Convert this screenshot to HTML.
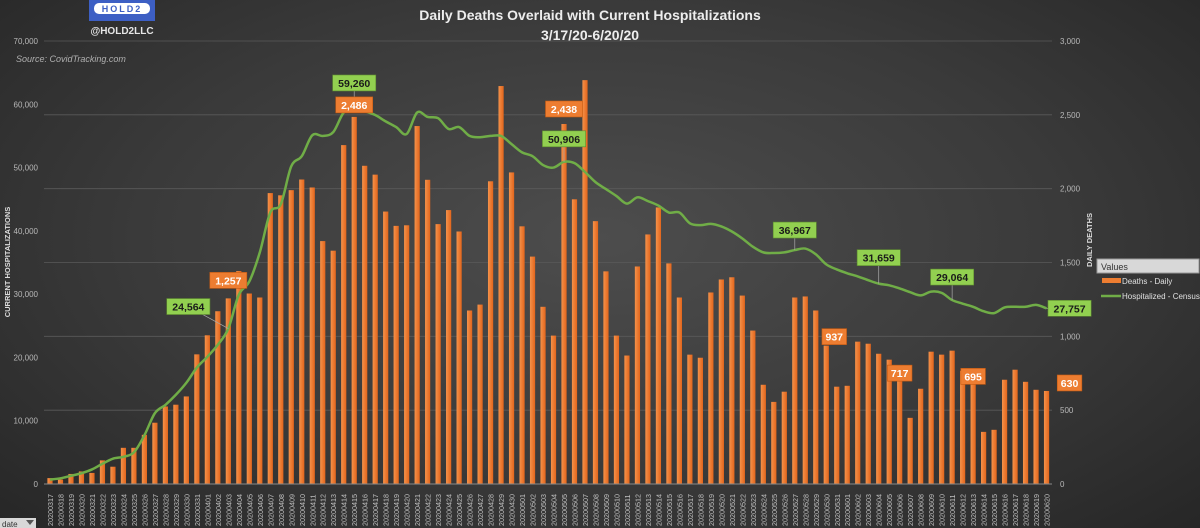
<!DOCTYPE html>
<html><head><meta charset="utf-8"><style>
html,body{margin:0;padding:0;}
body{width:1200px;height:528px;overflow:hidden;background:radial-gradient(ellipse 70% 80% at 50% 45%,#4d4d4d 0%,#3a3a3a 55%,#262626 100%);font-family:"Liberation Sans",sans-serif;}
svg{position:absolute;left:0;top:0;}
</style></head><body>
<svg id="chart" width="1200" height="528">
<defs><linearGradient id="barg" x1="0" x2="1"><stop offset="0" stop-color="#f5924a"/><stop offset="1" stop-color="#e2651c"/></linearGradient></defs>
<g id="grid"></g>
<g id="bars"></g>
<g id="line"></g>
<g id="labels"></g>
<g id="axes"></g>
<g>
<rect x="89" y="0" width="66" height="21" fill="#3d5fc4"/>
<rect x="94" y="3" width="56" height="11" rx="5" fill="#fff"/>
<text x="122" y="12" font-size="9" font-weight="bold" fill="#3d5fc4" text-anchor="middle" letter-spacing="2">HOLD2</text>
<text x="122" y="34" font-size="10" font-weight="bold" fill="#e6e6e6" text-anchor="middle">@HOLD2LLC</text>
<text x="590" y="20" font-size="14" font-weight="bold" fill="#ededed" text-anchor="middle">Daily Deaths Overlaid with Current Hospitalizations</text>
<text x="590" y="40" font-size="14" font-weight="bold" fill="#ededed" text-anchor="middle">3/17/20-6/20/20</text>
<text x="16" y="62" font-size="9" font-style="italic" fill="#b0b0b0">Source: CovidTracking.com</text>
<text transform="translate(10,262) rotate(-90)" font-size="7.5" font-weight="bold" fill="#dcdcdc" text-anchor="middle">CURRENT HOSPITALIZATIONS</text>
<text transform="translate(1092,240) rotate(-90)" font-size="7.5" font-weight="bold" fill="#dcdcdc" text-anchor="middle">DAILY DEATHS</text>
</g>
<g>
<rect x="1097" y="259" width="102" height="14" fill="#d8d8d8" stroke="#999"/>
<text x="1101" y="270" font-size="9" fill="#333">Values</text>
<rect x="1102" y="278" width="19" height="5" fill="#ed7d31"/>
<text x="1122" y="284" font-size="8" fill="#e0e0e0">Deaths - Daily</text>
<line x1="1101" y1="296" x2="1121" y2="296" stroke="#70ad47" stroke-width="2.5"/>
<text x="1122" y="299" font-size="8" fill="#e0e0e0">Hospitalized - Census</text>
</g>
<g>
<rect x="0" y="518" width="36" height="12" fill="#d8d8d8"/>
<text x="2" y="527" font-size="8" fill="#333">date</text>
<path d="M26 520 L34 520 L30 525 Z" fill="#555"/>
</g>
</svg>
<script>
const dates = [];
(function(){const m=[[3,17,31],[4,1,30],[5,1,31],[6,1,20]];for(const [mo,a,b] of m)for(let d=a;d<=b;d++)dates.push('20200'+mo+(d<10?'0'+d:d));})();
const deaths = [40,30,68,85,75,160,117,245,245,333,415,525,537,593,878,1007,1170,1257,1442,1290,1263,1970,1955,1990,2062,2008,1645,1580,2295,2486,2155,2095,1845,1748,
1752,2424,2060,1760,1855,1710,1175,1215,2050,2695,2110,1745,1540,1200,1005,2438,1928,2735,1780,1440,1005,870,1473,1690,1873,1494,1263,876,855,1297,1385,1400,1276,1039,672,556,625,1263,
1270,1175,937,659,665,964,950,882,842,717,448,645,896,876,903,767,695,353,367,706,774,692,638,630];
const hosp = [700,900,1300,1700,2300,3200,4000,4300,5000,7700,11200,12500,14100,16000,18400,20100,22000,24564,29900,32000,36600,42900,44200,50200,51800,55100,55000,55600,58700,59260,58900,58300,57300,56400,
55300,58700,58000,57800,56100,56400,55000,54800,55000,55000,53700,52400,51800,50400,50000,50906,50700,49300,47700,46600,45500,44300,45300,44700,44000,42900,42900,41200,40900,41100,40700,39900,38800,37500,36600,36500,36600,36967,
37200,36300,34700,33900,33300,32800,32200,31659,31400,30900,30300,29800,30400,30200,29064,28500,28000,27300,27000,27900,28000,28000,28300,27757];
const leftTicks = [0,10000,20000,30000,40000,50000,60000,70000];
const rightTicks = [0,500,1000,1500,2000,2500,3000];
const hospLabels = [17,29,49,71,79,86,95];
const deathLabels = [17,29,49,74,81,88,95];

const Y0=484, YT=41, X0=50, DX=10.49;
const xAt=i=>X0+i*DX;
const yL=v=>Y0-(v/70000)*(Y0-YT);
const yR=v=>Y0-(v/3000)*(Y0-YT);
const NS='http://www.w3.org/2000/svg';
function mk(tag,attrs,parent,txt){const e=document.createElementNS(NS,tag);for(const k in attrs)e.setAttribute(k,attrs[k]);if(txt!==undefined)e.textContent=txt;parent.appendChild(e);return e;}
const fmt=v=>v.toLocaleString('en-US');
const G=id=>document.getElementById(id);

rightTicks.forEach(t=>{
  const l=mk('line',{x1:44,x2:1052,y1:yR(t),y2:yR(t),stroke:'#5a5a5a','stroke-width':0.8},G('grid'));
  
  
  const tx=mk('text',{x:1060,y:yR(t)+3,'font-size':8,fill:'#b8b8b8'},G('axes'),fmt(t));
  
  
});
leftTicks.forEach(t=>{
  const tx=mk('text',{x:38,y:yL(t)+3,'font-size':8,fill:'#b8b8b8','text-anchor':'end'},G('axes'),fmt(t));
  
  
});
mk('line',{x1:44,x2:1052,y1:Y0,y2:Y0,stroke:'#888','stroke-width':1},G('axes'));
dates.forEach((d,i)=>{
  const r=mk('rect',{x:xAt(i)-2.6,y:yR(deaths[i]),width:5.2,height:Y0-yR(deaths[i]),fill:'url(#barg)'},G('bars'));
  
  
  const tx=mk('text',{transform:`translate(${xAt(i)+3},526) rotate(-90)`,'font-size':7.2,fill:'#c0c0c0'},G('axes'),d);
  
  
});
// smooth line (Catmull-Rom)
const pts=hosp.map((v,i)=>[xAt(i),yL(v)]);
let dstr=`M${pts[0][0]},${pts[0][1]}`;
for(let i=0;i<pts.length-1;i++){const p0=pts[Math.max(0,i-1)],p1=pts[i],p2=pts[i+1],p3=pts[Math.min(pts.length-1,i+2)];
dstr+=` C${p1[0]+(p2[0]-p0[0])/6},${p1[1]+(p2[1]-p0[1])/6} ${p2[0]-(p3[0]-p1[0])/6},${p2[1]-(p3[1]-p1[1])/6} ${p2[0]},${p2[1]}`;}
const path=mk('path',{d:dstr,fill:'none',stroke:'#70ad47','stroke-width':2.5},G('line'));



function label(x,y,txt,bg,fg,name){
  const w=txt.length*6.2+6;
  const r=mk('rect',{x:x-w/2,y:y-8,width:w,height:16,fill:bg,stroke:bg==='#92d050'?'#5d8a2f':'#c55a11','stroke-width':0.6},G('labels'));
  
  
  mk('text',{x:x,y:y+4,'font-size':10.5,'font-weight':'bold',fill:fg,'text-anchor':'middle'},G('labels'),txt);
}
const hOff={17:[-40,-22],29:[0,-26],49:[0,-23],71:[0,-20],79:[0,-26],86:[0,-23],95:[23,0]};
hospLabels.forEach(i=>{const o=hOff[i];const x=xAt(i)+o[0],y=yL(hosp[i])+o[1];
  mk('line',{x1:xAt(i),y1:yL(hosp[i]),x2:x,y2:y,stroke:'#aaa','stroke-width':0.7},G('labels'));
  label(x,y,fmt(hosp[i]),'#92d050','#1a1a1a','hosp-label');});
const dOff={17:[0,-18],29:[0,-12],49:[0,-15],74:[8,-9],81:[0,-5],88:[0,-5],95:[23,-8]};
deathLabels.forEach(i=>{const o=dOff[i];const x=xAt(i)+o[0],y=yR(deaths[i])+o[1];
  label(x,y,fmt(deaths[i]),'#ed7d31','#fff','death-label');});
</script>
</body></html>
